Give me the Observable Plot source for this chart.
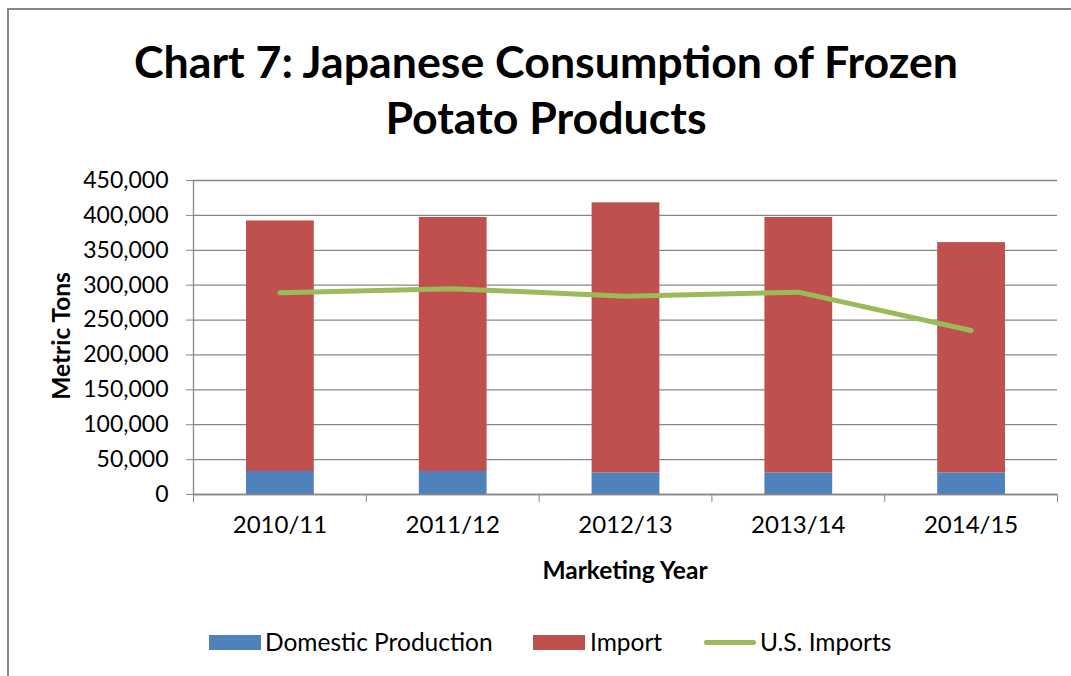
<!DOCTYPE html>
<html><head>
<meta charset="utf-8">
<script src="https://cdn.jsdelivr.net/npm/d3@7"></script>
<script src="https://cdn.jsdelivr.net/npm/@observablehq/plot@0.6"></script>
<style>
body{margin:0;background:#fff;}
#wrap{position:relative;width:1071px;height:676px;overflow:hidden;font-family:Lato, "Open Sans", sans-serif;color:#000;background:#fff;}
#frame{position:absolute;left:7px;top:8px;width:2000px;height:1000px;border-top:2px solid #878787;border-left:2px solid #878787;}
#title{position:absolute;left:0;top:33px;width:1092px;text-align:center;font-weight:bold;font-size:44.7px;line-height:56px;}
#chart{position:absolute;left:0;top:160px;}
.axt{position:absolute;font-weight:bold;font-size:24.5px;white-space:nowrap;transform:translate(-50%,-50%);}
#ylab{left:60px;top:336px;transform:translate(-50%,-50%) rotate(-90deg);}
#xlab{left:625px;top:569px;}
#legend{position:absolute;left:0;top:627px;width:1071px;height:30px;font-size:24.5px;}
.li{position:absolute;top:0;height:30px;line-height:30px;white-space:nowrap;}
.sw{position:absolute;}
</style>
</head><body>
<div id="wrap">
  <div id="frame"></div>
  <div id="title">Chart 7: Japanese Consumption of Frozen<br>Potato Products</div>
  <div id="chart"></div>
  <div class="axt" id="ylab">Metric Tons</div>
  <div class="axt" id="xlab">Marketing Year</div>
  <div id="legend"></div>
</div>
<script>
const years = ["2010/11", "2011/12", "2012/13", "2013/14", "2014/15"];
const domestic = [33000, 33000, 31000, 31000, 31000];
const imports = [359000, 364000, 387000, 366000, 330000];
const usImports = [289000, 295000, 284000, 290000, 235000];
const yTicks = [0, 50000, 100000, 150000, 200000, 250000, 300000, 350000, 400000, 450000];
const seriesNames = ["Domestic Production", "Import", "U.S. Imports"];
const seriesColors = ["#4F81BD", "#C0504D", "#9BBB59"];

const rows = years.map((y, i) => ({year: y, i, domestic: domestic[i], imp: imports[i], us: usImports[i]}));
const segs = rows.flatMap(r => [
  {i: r.i, s: seriesNames[0], y1: 0, y2: r.domestic},
  {i: r.i, s: seriesNames[1], y1: r.domestic, y2: r.domestic + r.imp}
]);
const grid = "#878787";

const chart = Plot.plot({
  width: 1071, height: 440,
  marginTop: 20, marginBottom: 106, marginLeft: 193, marginRight: 14,
  style: {fontFamily: "Lato, 'Open Sans', sans-serif", fontSize: "23px", color: "#000", background: "transparent"},
  x: {domain: [0, years.length], axis: null},
  y: {domain: [0, 450000], axis: null},
  color: {domain: seriesNames.slice(0, 2), range: seriesColors.slice(0, 2)},
  marks: [
    Plot.gridY(yTicks, {stroke: grid, strokeOpacity: 1, strokeWidth: 1.3}),
    Plot.axisY(yTicks, {tickFormat: d3.format(","), tickSize: 7, tickPadding: 18, stroke: grid, strokeOpacity: 1, fontSize: 23, label: null}),
    Plot.axisX(d3.range(years.length + 1), {tickSize: 8, tickFormat: () => "", stroke: grid, strokeOpacity: 1, label: null}),
    Plot.axisX(rows.map(r => r.i + 0.5), {tickSize: 0, tickPadding: 21, tickFormat: d => years[Math.floor(d)], fontSize: 24, label: null}),
    Plot.rectY(segs, {x1: d => d.i, x2: d => d.i + 1, y1: "y1", y2: "y2", fill: "s", insetLeft: 53, insetRight: 52}),
    Plot.ruleX([0], {stroke: grid, strokeWidth: 1.3}),
    Plot.ruleY([0], {stroke: grid, strokeWidth: 1.3}),
    Plot.line(rows, {x: d => d.i + 0.5, y: "us", stroke: seriesColors[2], strokeWidth: 5, strokeLinecap: "round", strokeLinejoin: "round"})
  ]
});
document.getElementById("chart").appendChild(chart);

const legend = document.getElementById("legend");
const legendX = [{sw: 209, tx: 265, kind: "box"}, {sw: 533, tx: 590, kind: "box"}, {sw: 704, tx: 760, kind: "line"}];
seriesNames.forEach((name, k) => {
  const p = legendX[k];
  const sw = document.createElement("div");
  sw.className = "sw";
  sw.style.left = p.sw + "px";
  sw.style.width = "52px";
  sw.style.background = seriesColors[k];
  if (p.kind === "box") { sw.style.top = "8px"; sw.style.height = "15px"; }
  else { sw.style.top = "13px"; sw.style.height = "5px"; sw.style.borderRadius = "2px"; }
  legend.appendChild(sw);
  const t = document.createElement("div");
  t.className = "li";
  t.style.left = p.tx + "px";
  t.textContent = name;
  legend.appendChild(t);
});
</script>
</body></html>
